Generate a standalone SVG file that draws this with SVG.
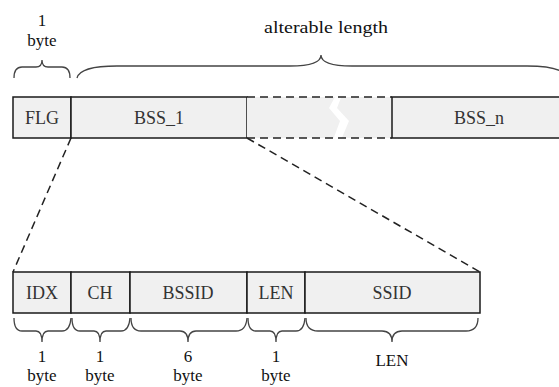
<svg xmlns="http://www.w3.org/2000/svg" width="559" height="387" viewBox="0 0 559 387">
<style>
.box{fill:#f0f0f0;stroke:#1a1a1a;stroke-width:1.5}
.lbl{font-family:'Liberation Serif',serif;font-size:18px;fill:#333;text-anchor:middle}
.t{font-family:'Liberation Serif',serif;font-size:17px;fill:#111;text-anchor:middle}
.brace{fill:none;stroke:#444;stroke-width:1.3}
.dash{fill:none;stroke:#222;stroke-width:1.5;stroke-dasharray:8 5}
</style>
<rect width="559" height="387" fill="#fff"/>
<g id="flg"><rect class="box" x="13" y="97" width="58" height="41"/><text class="lbl" x="42" y="124">FLG</text></g>
<g id="bss1"><rect class="box" x="71" y="97" width="176" height="41"/><text class="lbl" x="159" y="124">BSS_1</text></g>
<g id="gap">
<rect x="247" y="97" width="145" height="41" fill="#f0f0f0"/>
<path d="M336,95 L342,95 L337,108 L349,121 L341,140 L333,140 L340,121 L329,108 Z" fill="#fff"/>
<line class="dash" x1="247" y1="97" x2="392" y2="97"/>
<line class="dash" x1="247" y1="138" x2="392" y2="138"/>
</g>
<g id="bssn"><rect class="box" x="392" y="97" width="180" height="41"/><text class="lbl" x="479" y="124">BSS_n</text></g>
<g id="idx"><rect class="box" x="13" y="272" width="58" height="41"/><text class="lbl" x="42" y="299">IDX</text></g>
<g id="ch"><rect class="box" x="71" y="272" width="59" height="41"/><text class="lbl" x="100" y="299">CH</text></g>
<g id="bssid"><rect class="box" x="130" y="272" width="117" height="41"/><text class="lbl" x="188" y="299">BSSID</text></g>
<g id="len"><rect class="box" x="247" y="272" width="58" height="41"/><text class="lbl" x="276" y="299">LEN</text></g>
<g id="ssid"><rect class="box" x="305" y="272" width="175" height="41"/><text class="lbl" x="392" y="299">SSID</text></g>
<g id="connectors">
<line class="dash" x1="71" y1="138" x2="13" y2="272"/>
<line class="dash" x1="247" y1="138" x2="480" y2="272"/>
</g>
<g id="braces">
<path class="brace" d="M14,78 Q14,67 22,67 L36,67 Q42,67 42,60 Q42,67 48,67 L62,67 Q70,67 70,78"/>
<path class="brace" d="M77,78 Q80,66 117,66 L290,66 Q321,66 321,55 Q321,66 352,66 L527,66 Q564,66 567,78"/>
<path class="brace" d="M14,318 Q14,331 22,331 L36,331 Q42,331 42,342 Q42,331 48,331 L62,331 Q70,331 71,318"/>
<path class="brace" d="M72,318 Q72,331 80,331 L94,331 Q100,331 100,342 Q100,331 106,331 L121,331 Q129,331 130,318"/>
<path class="brace" d="M131,318 Q131,331 141,331 L180,331 Q188,331 188,342 Q188,331 196,331 L236,331 Q246,331 247,318"/>
<path class="brace" d="M248,318 Q248,331 256,331 L270,331 Q276,331 276,342 Q276,331 282,331 L296,331 Q304,331 305,318"/>
<path class="brace" d="M306,318 Q306,331 318,331 L382,331 Q392,331 392,342 Q392,331 402,331 L466,331 Q478,331 478,318"/>
</g>
<g id="labels">
<text class="t" x="42" y="26">1</text><text class="t" x="42" y="46">byte</text>
<text class="t" x="326" y="33" textLength="124" lengthAdjust="spacingAndGlyphs">alterable length</text>
<text class="t" x="42" y="362">1</text><text class="t" x="42" y="381">byte</text>
<text class="t" x="100" y="362">1</text><text class="t" x="100" y="381">byte</text>
<text class="t" x="188" y="362">6</text><text class="t" x="188" y="381">byte</text>
<text class="t" x="276" y="362">1</text><text class="t" x="276" y="381">byte</text>
<text class="t" x="392" y="366">LEN</text>
</g>
</svg>
